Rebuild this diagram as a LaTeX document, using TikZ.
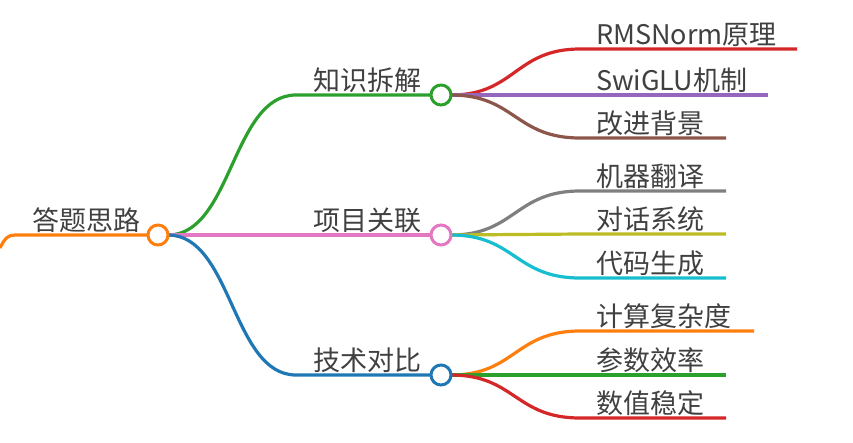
\documentclass[tikz,border=0pt]{standalone}
\usepackage{fontspec}
\setmainfont{Noto Sans CJK SC}
\definecolor{cOrange}{HTML}{FF7F0E}
\definecolor{cGreen}{HTML}{2CA02C}
\definecolor{cPink}{HTML}{E377C2}
\definecolor{cBlue}{HTML}{1F77B4}
\definecolor{cRed}{HTML}{D62728}
\definecolor{cPurple}{HTML}{9467BD}
\definecolor{cBrown}{HTML}{8C564B}
\definecolor{cGray}{HTML}{7F7F7F}
\definecolor{cOlive}{HTML}{BCBD22}
\definecolor{cCyan}{HTML}{17BECF}
\definecolor{txt}{HTML}{404040}
\begin{document}
\begin{tikzpicture}[x=1pt,y=-1pt,
  dot/.style={circle, fill=white, line width=3pt, minimum size=20pt, inner sep=0pt},
  link/.style={line width=3.2pt},
  lbl/.style={anchor=base west, inner sep=0pt, text=txt, font=\fontsize{27}{30}\selectfont}]
\useasboundingbox (0,0) rectangle (853,442);
% positions
\coordinate (r) at (158,235);
\coordinate (a) at (441,95);
\coordinate (b) at (441,235);
\coordinate (c) at (441,375);
\coordinate (a1) at (797,49);
\coordinate (a2) at (768,95);
\coordinate (a3) at (726,138);
\coordinate (b1) at (726,191);
\coordinate (b2) at (726,234);
\coordinate (b3) at (726,278);
\coordinate (c1) at (754,331);
\coordinate (c2) at (726,375);
\coordinate (c3) at (726,418);
\coordinate (in) at (0,248);
% root incoming
\draw[link,cOrange] (in) .. controls (5,238) and (8,235) .. (15,235) -- (r);
% level 1 links
\draw[link,cGreen] ([xshift=10pt]r) .. controls (232,235) and (232,95) .. (296,95) -- (a);
\draw[link,cPink] ([xshift=10pt]r) -- (b);
\draw[link,cBlue] ([xshift=10pt]r) .. controls (232,235) and (232,375) .. (296,375) -- (c);
% leaf links
\foreach \p/\q/\col in {a/a1/cRed, a/a2/cPurple, a/a3/cBrown, b/b1/cGray, b/b2/cOlive, b/b3/cCyan, c/c1/cOrange, c/c2/cGreen, c/c3/cRed}{
  \draw[link,\col] ([xshift=10pt]\p) .. controls (515,0 |- \p) and (515,0 |- \q) .. (580,0 |- \q) -- (\q);
}
% circles
\node[dot,draw=cOrange] (rn) at (r) {};
\node[dot,draw=cGreen] (an) at (a) {};
\node[dot,draw=cPink] (bn) at (b) {};
\node[dot,draw=cBlue] (cn) at (c) {};
% labels
\node[lbl] (rt) at (32,230) {答题思路};
\node[lbl] (at) at (313,90) {知识拆解};
\node[lbl] (bt) at (313,230) {项目关联};
\node[lbl] (ct) at (313,370) {技术对比};
\node[lbl] (a1t) at (596,44) {RMSNorm原理};
\node[lbl] (a2t) at (596,90) {SwiGLU机制};
\node[lbl] (a3t) at (596,133) {改进背景};
\node[lbl] (b1t) at (596,186) {机器翻译};
\node[lbl] (b2t) at (596,229) {对话系统};
\node[lbl] (b3t) at (596,273) {代码生成};
\node[lbl] (c1t) at (596,326) {计算复杂度};
\node[lbl] (c2t) at (596,370) {参数效率};
\node[lbl] (c3t) at (596,413) {数值稳定};
\end{tikzpicture}
\end{document}
